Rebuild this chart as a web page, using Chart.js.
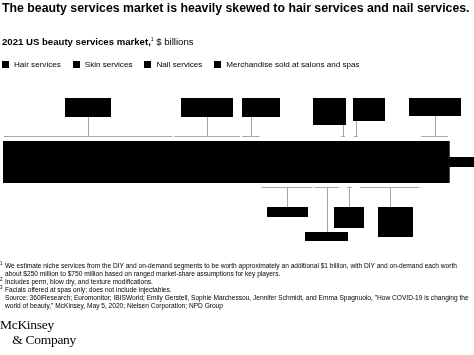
<!doctype html>
<html>
<head>
  <meta charset="utf-8">
  <title>US beauty services market</title>
  <script src="https://cdn.jsdelivr.net/npm/chart.js@4.4.1/dist/chart.umd.min.js"></script>
  <style>
    body { margin: 0; background: #fff; font-family: "Liberation Sans", Arial, sans-serif; color: #000; }
    .wrap { position: relative; width: 474px; height: 355px; overflow: hidden; }
    canvas { position: absolute; left: 0; top: 0; }
    .txt { position: absolute; white-space: nowrap; }
    .title { left: 2px; top: 1px; font-size: 12.3px; font-weight: bold; }
    .sub { left: 2px; top: 36px; font-size: 9.6px; }
    .sub b { font-weight: bold; }
    .sub sup { font-size: 5px; }
    .legend { left: 2px; top: 60px; font-size: 8.1px; }
    .legend span { display: inline-block; margin-right: 12px; }
    .legend i { display: inline-block; width: 7px; height: 7px; background: #000; margin-right: 5px; vertical-align: -1px; }
    .notes { left: 0; top: 262px; font-size: 6.6px; line-height: 7.9px; }
    .notes div { padding-left: 5px; position: relative; }
    .notes sup { position: absolute; left: 0; top: -2px; font-size: 4.5px; }
    .logo { left: 0; top: 317px; font-family: "Liberation Serif", "DejaVu Serif", serif; font-size: 13.5px; line-height: 15px; letter-spacing: -0.3px; }
  </style>
</head>
<body>
  <div class="wrap">
    <canvas id="myChart" width="474" height="355"></canvas>
    <div class="txt title">The beauty services market is heavily skewed to hair services and nail services.</div>
    <div class="txt sub"><b>2021 US beauty services market,</b><sup>1</sup> $ billions</div>
    <div class="txt legend" id="legend"></div>
    <div class="txt notes">
      <div><sup>1</sup>We estimate niche services from the DIY and on-demand segments to be worth approximately an additional $1 billion, with DIY and on-demand each worth</div>
      <div>about $250 million to $750 million based on ranged market-share assumptions for key players.</div>
      <div><sup>2</sup>Includes perm, blow dry, and texture modifications.</div>
      <div><sup>3</sup>Facials offered at spas only; does not include injectables.</div>
      <div>Source: 360iResearch; Euromonitor; IBISWorld; Emily Gerstell, Sophie Marchessou, Jennifer Schmidt, and Emma Spagnuolo, "How COVID-19 is changing the</div>
      <div>world of beauty," McKinsey, May 5, 2020; Nielsen Corporation; NPD Group</div>
    </div>
    <div class="txt logo">McKinsey<br>&nbsp;&nbsp;&nbsp;&nbsp;&amp; Company</div>
  </div>

  <script>
    // data
    var groups = ['Hair services', 'Skin services', 'Nail services', 'Merchandise sold at salons and spas'];
    var segments = ['Haircuts', 'Hair color', 'Other hair²', 'Manicures', 'Pedicures', 'Waxing', 'Nail art', 'Facials³', 'Nail enhancements', 'Merchandise'];
    var segmentValues = [22.9, 9.1, 2.6, 7.1, 3.6, 0.8, 0.9, 0.8, 8.3, 3.8];
    var otherLabel = 'Niche services';
    var otherValue = 3.4;
    var axisMax = 63.3;

    // label box layout (side, width, height, offset from leader, top)
    var boxes = [
      {side: 'up', w: 46, h: 19, dx: -23, top: 98},
      {side: 'up', w: 52, h: 19, dx: -26, top: 98},
      {side: 'up', w: 38, h: 19, dx: -9, top: 98},
      {side: 'down', w: 41, h: 10, dx: -20, top: 207},
      {side: 'down', w: 43, h: 9, dx: -22, top: 232},
      {side: 'up', w: 33, h: 27, dx: -30, top: 98},
      {side: 'down', w: 30, h: 21, dx: -15, top: 207},
      {side: 'up', w: 32, h: 23, dx: -3, top: 98},
      {side: 'down', w: 35, h: 30, dx: -12, top: 207},
      {side: 'up', w: 52, h: 18, dx: -26, top: 98}
    ];

    var legendEl = document.getElementById('legend');
    groups.forEach(function(g) {
      var s = document.createElement('span');
      s.innerHTML = '<i></i>' + g;
      legendEl.appendChild(s);
    });

    var datasets = segmentValues.map(function(v, i) {
      return {
        label: segments[i],
        data: [v],
        backgroundColor: '#000',
        borderWidth: 0,
        inflateAmount: 1,
        barThickness: 42,
        stack: 'market'
      };
    });
    datasets.push({
      label: otherLabel,
      data: [otherValue],
      backgroundColor: '#000',
      borderWidth: 0,
      inflateAmount: 0,
      barThickness: 10,
      stack: 'market'
    });

    var leaders = {
      id: 'leaders',
      afterDatasetsDraw: function(chart) {
        var ctx = chart.ctx;
        var x = chart.scales.x;
        var area = chart.chartArea;
        var cum = 0;
        ctx.save();
        segmentValues.forEach(function(v, i) {
          var x0 = x.getPixelForValue(cum);
          var x1 = x.getPixelForValue(cum + v);
          cum += v;
          var mid = Math.round((x0 + x1) / 2) + 0.5;
          var b = boxes[i];
          var up = b.side === 'up';
          var ly = up ? area.top - 4.5 : area.bottom + 4.5;
          var bx = mid - 0.5 + b.dx;
          ctx.strokeStyle = '#a6a6a6';
          ctx.lineWidth = 1;
          ctx.beginPath();
          ctx.moveTo(x0 + 1, ly);
          ctx.lineTo(x1 - 1, ly);
          ctx.moveTo(mid, ly);
          ctx.lineTo(mid, up ? b.top + b.h : b.top);
          ctx.stroke();
          ctx.fillStyle = '#000';
          ctx.fillRect(bx, b.top, b.w, b.h);
          // label text sits inside its box
          ctx.save();
          ctx.beginPath();
          ctx.rect(bx, b.top, b.w, b.h);
          ctx.clip();
          ctx.font = '6px "Liberation Sans"';
          ctx.textAlign = 'center';
          ctx.textBaseline = 'middle';
          ctx.fillText(v.toFixed(1), bx + b.w / 2, b.top + b.h / 2);
          ctx.restore();
        });
        ctx.restore();
      }
    };

    var config = {
      type: 'bar',
      data: {
        labels: ['2021'],
        datasets: datasets
      },
      options: {
        indexAxis: 'y',
        responsive: false,
        animation: false,
        layout: {
          padding: {left: 3, right: 0, top: 141, bottom: 172}
        },
        scales: {
          x: {stacked: true, min: 0, max: axisMax, display: false},
          y: {stacked: true, display: false}
        },
        plugins: {
          legend: {display: false},
          tooltip: {enabled: false}
        }
      },
      plugins: [leaders]
    };

    var ctx = document.getElementById('myChart').getContext('2d');
    window.myChart = new Chart(ctx, config);
  </script>
</body>
</html>
